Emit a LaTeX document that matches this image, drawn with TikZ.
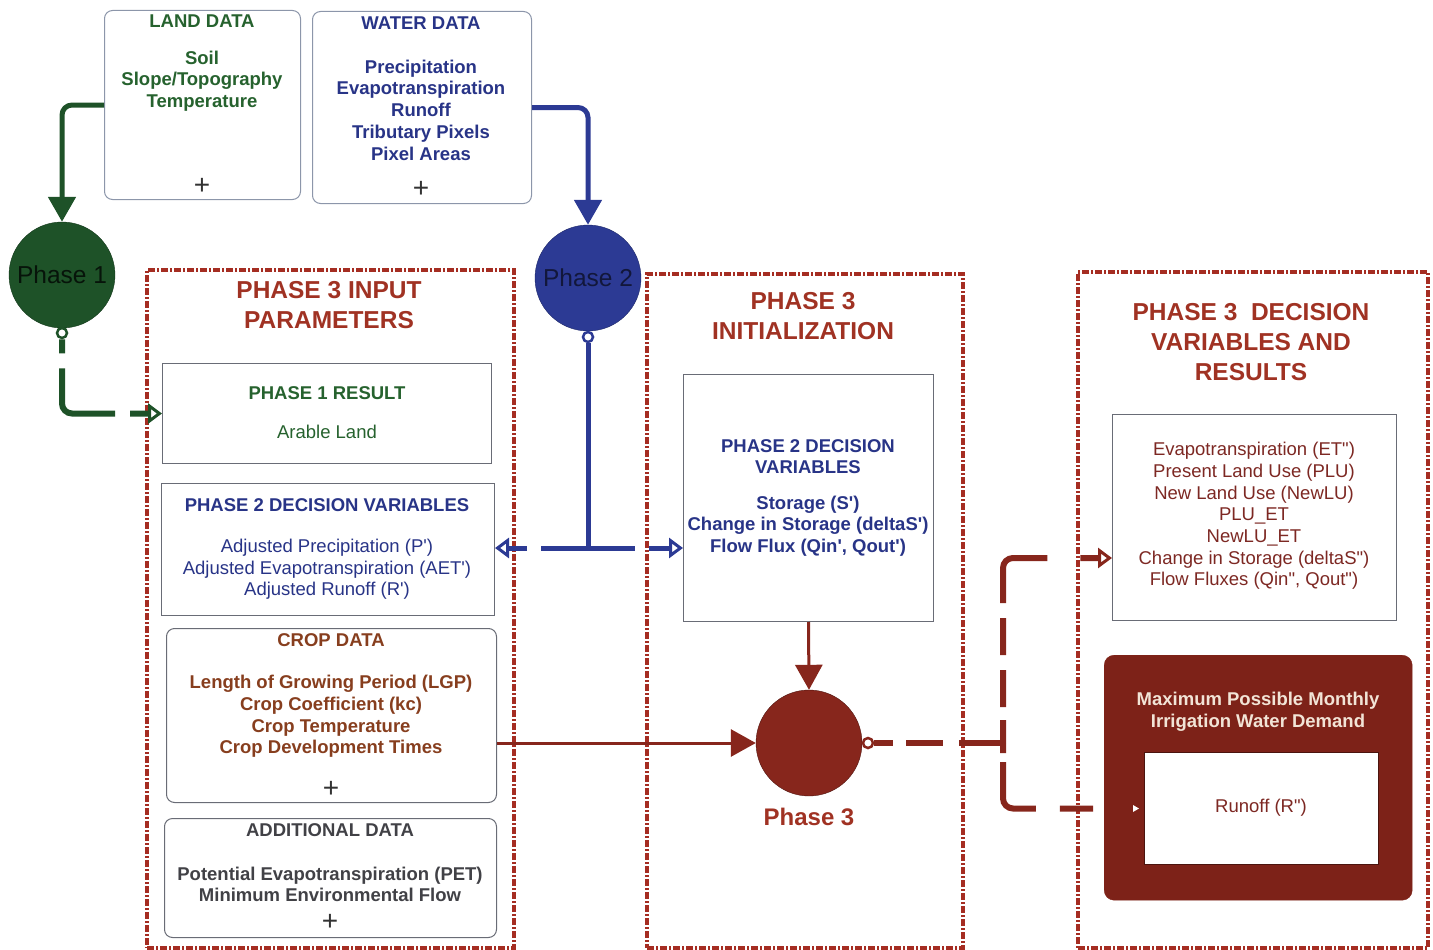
\documentclass[tikz,border=0pt]{standalone}
\usepackage{fontspec}
\setmainfont{Liberation Sans}[Ligatures=TeXOff]
\usetikzlibrary{arrows.meta,calc}

\definecolor{landgreen}{RGB}{38,98,46}
\definecolor{landfill}{RGB}{30,82,40}
\definecolor{wblue}{RGB}{40,52,135}
\definecolor{wfill}{RGB}{44,58,148}
\definecolor{frame}{RGB}{165,45,34}
\definecolor{ttlred}{RGB}{160,50,35}
\definecolor{cropbrown}{RGB}{135,62,30}
\definecolor{p3fill}{RGB}{135,38,28}
\definecolor{darkbox}{RGB}{125,34,24}
\definecolor{resred}{RGB}{125,40,35}
\definecolor{addgray}{RGB}{65,65,70}
\definecolor{boxline}{RGB}{105,108,118}
\definecolor{lightline}{RGB}{140,150,170}
\definecolor{cream}{RGB}{242,228,214}

\tikzset{
  databox/.style={draw=lightline, line width=1pt, rounded corners=8pt, fill=white,
    anchor=north west, inner sep=0pt},
  plainbox/.style={draw=boxline, line width=1pt, fill=white, anchor=north west, inner sep=0pt},
  container/.style={draw=frame, line width=4pt,
    dash pattern=on 7pt off 2pt on 2pt off 2pt, anchor=north west, inner sep=0pt},
  phase/.style={circle, minimum size=106pt, inner sep=0pt,
    font=\fontsize{24.5}{26}\selectfont},
  port/.style={circle, minimum size=10pt, inner sep=0pt, fill=white, line width=2.5pt},
  hd/.style={font=\bfseries\fontsize{18.5}{21.7}\selectfont, align=center},
  bd/.style={font=\fontsize{18.5}{21.7}\selectfont, align=center},
  big/.style={font=\bfseries\fontsize{24.5}{30}\selectfont, align=center, text=ttlred},
  plus/.style={font=\fontsize{28}{28}\selectfont, text=black!80},
  gline/.style={draw=landfill, line width=5pt},
  bline/.style={draw=wfill, line width=5pt},
  rline/.style={draw=p3fill, line width=3pt},
  rdash/.style={draw=p3fill, line width=6pt},
  filltip/.style={-{Triangle[length=25pt,width=27pt]}},
  opentip/.style={-{Triangle[open,length=14pt,width=20pt,line width=3pt]}},
}

\begin{document}
\begin{tikzpicture}[x=1pt,y=-1pt]
\useasboundingbox (0,0) rectangle (1433,950);

% ---------- source data boxes ----------
\node[databox, minimum width=196pt, minimum height=189pt] (land) at (104,10) {};
\node[hd, text=landgreen] (landttl) at (202,21) {LAND DATA};
\node[hd, text=landgreen] (landbody) at (202,81) {Soil\\Slope/Topography\\Temperature};
\node[plus] (landplus) at (202,186) {+};

\node[databox, minimum width=219pt, minimum height=192pt] (water) at (312,11) {};
\node[hd, text=wblue] (waterttl) at (421,23) {WATER DATA};
\node[hd, text=wblue] (waterbody) at (421,110)
  {Precipitation\\Evapotranspiration\\Runoff\\Tributary Pixels\\Pixel Areas};
\node[plus] (waterplus) at (421,189) {+};

% ---------- dash-dot containers ----------
\node[container, minimum width=367pt, minimum height=678pt] (inputs) at (145,268) {};
\node[big] (inputsttl) at (329,305) {PHASE 3 INPUT\\PARAMETERS};

\node[container, minimum width=316pt, minimum height=674pt] (init) at (645,272) {};
\node[big] (initttl) at (803,316) {PHASE 3\\INITIALIZATION};

\node[container, minimum width=350pt, minimum height=676pt] (results) at (1076,270) {};
\node[big] (resultsttl) at (1251,342) {PHASE 3\ \ DECISION\\VARIABLES AND\\RESULTS};

% ---------- input parameter boxes ----------
\node[plainbox, minimum width=329pt, minimum height=100pt] (p1res) at (162,363) {};
\node[hd, text=landgreen] (p1resttl) at (327,393) {PHASE 1 RESULT};
\node[bd, text=landgreen] (p1resbody) at (327,432) {Arable Land};

\node[plainbox, minimum width=333pt, minimum height=132pt] (p2dv) at (161,483) {};
\node[hd, text=wblue] (p2dvttl) at (327,505) {PHASE 2 DECISION VARIABLES};
\node[bd, text=wblue] (p2dvbody) at (327,569.5)
  {Adjusted Precipitation (P')\\Adjusted Evapotranspiration (AET')\\Adjusted Runoff (R')};

\node[databox, draw=boxline, minimum width=330pt, minimum height=174pt] (crop) at (166,628) {};
\node[hd, text=cropbrown] (cropttl) at (331,640) {CROP DATA};
\node[hd, text=cropbrown] (cropbody) at (331,716.5)
  {Length of Growing Period (LGP)\\Crop Coefficient (kc)\\Crop Temperature\\Crop Development Times};
\node[plus] (cropplus) at (331,789) {+};

\node[databox, draw=boxline, minimum width=332pt, minimum height=119pt] (addl) at (164,818) {};
\node[hd, text=addgray] (addlttl) at (330,830) {ADDITIONAL DATA};
\node[hd, text=addgray] (addlbody) at (330,884.5)
  {Potential Evapotranspiration (PET)\\Minimum Environmental Flow};
\node[plus] (addlplus) at (330,922) {+};

% ---------- initialization box ----------
\node[plainbox, minimum width=250pt, minimum height=247pt] (initbox) at (683,374) {};
\node[hd, text=wblue] (initboxttl) at (808,456.5) {PHASE 2 DECISION\\VARIABLES};
\node[hd, text=wblue] (initboxbody) at (808,526)
  {Storage (S')\\Change in Storage (deltaS')\\Flow Flux (Qin', Qout')};

% ---------- results boxes ----------
\node[plainbox, minimum width=284pt, minimum height=206pt] (resbox) at (1112,414) {};
\node[bd, text=resred] (resboxbody) at (1254,516)
  {Evapotranspiration (ET")\\Present Land Use (PLU)\\New Land Use (NewLU)\\PLU\_ET\\NewLU\_ET\\Change in Storage (deltaS")\\Flow Fluxes (Qin", Qout")};

\node[draw=darkbox, fill=darkbox, rounded corners=10pt, anchor=north west, inner sep=0pt,
  minimum width=308pt, minimum height=245pt] (dbox) at (1104,655) {};
\node[hd, text=cream] (dboxttl) at (1258,711.5) {Maximum Possible Monthly\\Irrigation Water Demand};
\node[plainbox, draw=darkbox!60!black, minimum width=234pt, minimum height=112pt] (runoff) at (1144,752) {};
\node[bd, text=resred] (runofftxt) at (1261,808) {Runoff (R")};

% ---------- phase circles ----------
\node[phase, fill=landfill, draw=landfill!70!black, text=black!75!landfill] (ph1) at (62,275) {Phase 1};
\node[port, draw=landfill] (p1port) at (62,333) {};

\node[phase, fill=wfill, draw=wfill!70!black, text=black!60!wfill] (ph2) at (588,278) {Phase 2};
\node[port, draw=wfill] (p2port) at (588,337) {};

\node[phase, fill=p3fill, draw=p3fill!60!black] (ph3) at (809,743) {};
\node[font=\bfseries\fontsize{24}{26}\selectfont, text=ttlred] (ph3lbl) at (809,817) {Phase 3};
\node[port, draw=p3fill] (p3port) at (868,743) {};

% ---------- connectors ----------
\draw[gline, filltip, rounded corners=10pt] (land.west) -| (ph1.north);
\draw[bline, filltip, rounded corners=10pt] (water.east) -| (ph2.north);

\draw[gline, line width=6pt, opentip, rounded corners=10pt,
  dash pattern=on 14pt off 15pt on 94pt off 15pt on 60pt]
  (p1port.south) |- (p1res.west);

\coordinate (j2) at (588,548);
\draw[bline] (p2port.south) -- (j2);
\draw[bline, opentip, dash pattern=on 47pt off 14pt on 80pt] (j2) -- (p2dv.east |- j2);
\draw[bline, opentip, dash pattern=on 47pt off 14pt on 80pt] (j2) -- (initbox.west |- j2);

\draw[rline, filltip] (initbox.south) -- (ph3.north);
\draw[rline, filltip] (crop.east |- ph3.west) -- (ph3.west);

\coordinate (j3) at (1003,743);
\coordinate (resin) at (1112,558);
\draw[rdash, dash pattern=on 19pt off 13pt on 37pt off 16pt on 80pt] (p3port.east) -- (j3);
\draw[rdash, opentip, rounded corners=10pt,
  dash pattern=on 23pt off 13pt on 37pt off 15pt on 37pt off 15pt on 85pt off 33pt on 60pt]
  (j3) |- (resin);
\draw[rdash, rounded corners=10pt,
  dash pattern=on 10pt off 9pt on 75pt off 24pt on 60pt,
  shorten >=11pt] (j3) |- (dbox.west |- runoff.west);
\fill[white] ($(runoff.west)+(-11,-3.5)$) -- ($(runoff.west)+(-5,0)$) -- ($(runoff.west)+(-11,3.5)$) -- cycle;

\end{tikzpicture}
\end{document}
